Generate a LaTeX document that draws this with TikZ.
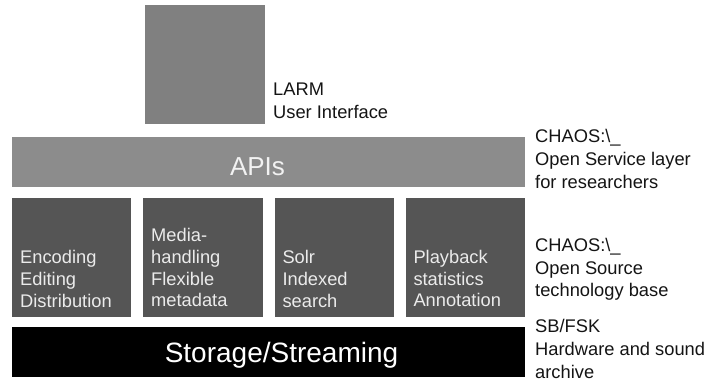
\documentclass[tikz,border=0pt]{standalone}
\usepackage{fontspec}
\setmainfont{Liberation Sans}
\begin{document}
\begin{tikzpicture}[x=1pt,y=-1pt,
  lbl/.style={anchor=base west,align=left,inner sep=0,text=black!92,font=\fontsize{18.3}{22.7}\selectfont},
  boxlbl/.style={anchor=base west,align=left,inner sep=0,text=black!8,font=\fontsize{18.3}{21.7}\selectfont}]
\useasboundingbox (0,0) rectangle (711,383);
\definecolor{ui}{HTML}{808080}
\definecolor{api}{HTML}{8C8C8C}
\definecolor{tech}{HTML}{555555}
% LARM box
\fill[ui] (145,5) rectangle (265,124);
\node[lbl] (larm) at (273,118.3) {LARM\\User Interface};
% APIs
\fill[api] (12,137) rectangle (525,187);
\node[anchor=base,inner sep=0,text=white!95!black,font=\fontsize{26}{30}\selectfont] (apis) at (257.5,175) {APIs};
\node[lbl] (osl) at (535,188) {CHAOS:\textbackslash\_\\Open Service layer\\for researchers};
% technology boxes
\fill[tech] (12,198) rectangle (131,317);
\fill[tech] (143,198) rectangle (263,317);
\fill[tech] (275,198) rectangle (394,317);
\fill[tech] (406,198) rectangle (525,317);
\node[boxlbl] (enc) at (20,307.3) {Encoding\\Editing\\Distribution};
\node[boxlbl] (med) at (151,306.7) {Media-\\handling\\Flexible\\metadata};
\node[boxlbl] (solr) at (282.3,307) {Solr\\Indexed\\search};
\node[boxlbl] (play) at (413.3,306.7) {Playback\\statistics\\Annotation};
\node[lbl] (osb) at (535,296.7) {CHAOS:\textbackslash\_\\Open Source\\technology base};
% storage
\fill[black] (12,327) rectangle (525,377);
\node[anchor=base,inner sep=0,text=white,font=\fontsize{28}{32}\selectfont] (stor) at (281.5,362.7) {Storage/Streaming};
\node[lbl] (sb) at (535,378) {SB/FSK\\Hardware and sound\\archive};
\end{tikzpicture}
\end{document}
